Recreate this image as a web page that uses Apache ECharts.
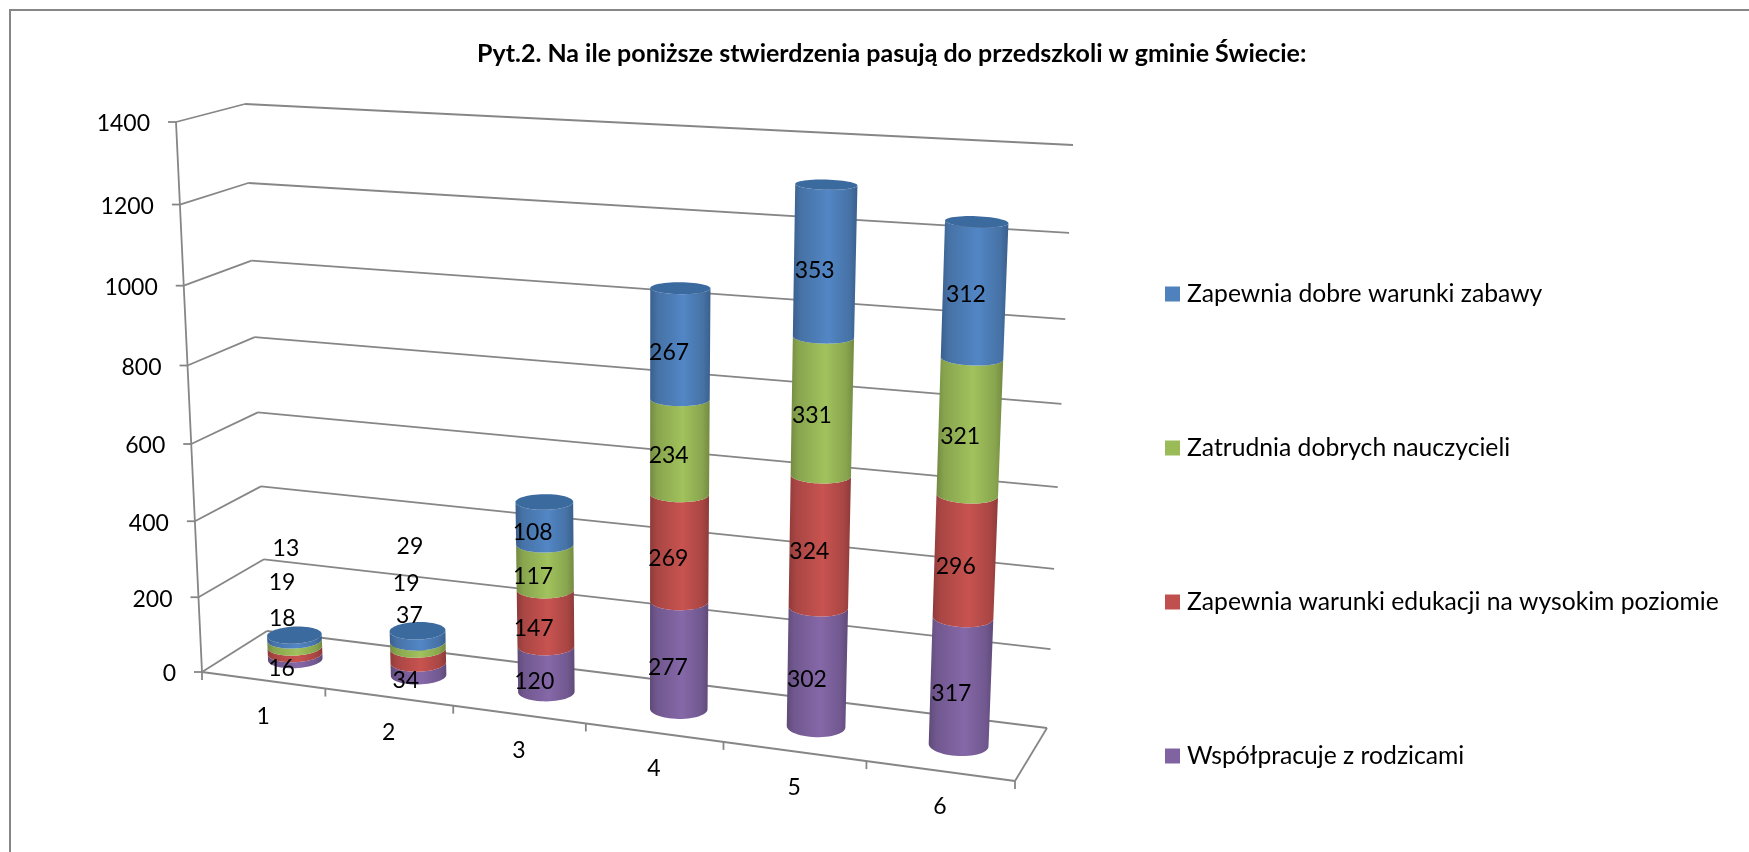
<!DOCTYPE html>
<html><head><meta charset="utf-8">
<style>html,body{margin:0;padding:0;background:#fff}#c{width:1749px;height:852px}</style>
<script src="https://cdn.jsdelivr.net/npm/echarts@6/dist/echarts.min.js"></script>
</head><body><div id="c"></div>
<script>
// ---- data ----
const titleText = 'Pyt.2. Na ile poniższe stwierdzenia pasują do przedszkoli w gminie Świecie:';
const categories = ['1','2','3','4','5','6'];
const yTicks = [0,200,400,600,800,1000,1200,1400];
const wspolpracuje = [16,34,120,277,302,317];
const edukacja = [18,37,147,269,324,296];
const nauczyciele = [19,19,117,234,331,321];
const zabawa = [13,29,108,267,353,312];
const stackOrder = [
  ['Współpracuje z rodzicami', wspolpracuje, '#8064a2', '#6b5488'],
  ['Zapewnia warunki edukacji na wysokim poziomie', edukacja, '#c0504d', '#a04340'],
  ['Zatrudnia dobrych nauczycieli', nauczyciele, '#9bbb59', '#81a04a'],
  ['Zapewnia dobre warunki zabawy', zabawa, '#4f81bd', '#3b6a9e']
];
const legendOrder = [stackOrder[3][0], stackOrder[2][0], stackOrder[1][0], stackOrder[0][0]];

// ---- perspective calibration of the axis box ----
const GRID = {left:100, top:100, width:600, height:600};
function quad(p0,p1,p2,p3){
  const dx1=p1[0]-p2[0],dx2=p3[0]-p2[0],sx=p0[0]-p1[0]+p2[0]-p3[0];
  const dy1=p1[1]-p2[1],dy2=p3[1]-p2[1],sy=p0[1]-p1[1]+p2[1]-p3[1];
  const den=dx1*dy2-dx2*dy1;
  const g=(sx*dy2-dx2*sy)/den,h=(dx1*sy-sx*dy1)/den;
  const a=p1[0]-p0[0]+g*p1[0],b=p3[0]-p0[0]+h*p3[0],c=p0[0];
  const d=p1[1]-p0[1]+g*p1[1],e=p3[1]-p0[1]+h*p3[1],f=p0[1];
  return (u,v)=>{const w=g*u+h*v+1;return [(a*u+b*v+c)/w,(d*u+e*v+f)/w];};
}
const frontPlane = quad([202,672],[1015,781],[1040,169],[176,122]);
const backPlane  = quad([267,631],[1047,728],[1073,145],[245,104]);
function P(u,v,z){const f=frontPlane(u,v),b=backPlane(u,v);return [f[0]+(b[0]-f[0])*z,f[1]+(b[1]-f[1])*z];}
function norm(c){return [(c[0]-GRID.left)/GRID.width,(GRID.top+GRID.height-c[1])/GRID.height];}

const RZ=0.21, USHIFT=0.001, AXIS='#868686', FONT='Lato, "Noto Sans", sans-serif', LABEL_SIZE=23;
const radiusX = u => 0.0378 - 0.0038*u;
const seriesLabelDy = [3,1,0,0];
function ln(a,b,w){return {type:'line',shape:{x1:a[0],y1:a[1],x2:b[0],y2:b[1]},style:{stroke:AXIS,lineWidth:w||1.8},silent:true};}

function renderY(params,api){
  const val=api.value(0), [ ,v]=norm(api.coord([0,val]));
  const a=P(0,v,0),b=P(0,v,1),c=P(1,v,1);
  const kids=[ln(a,b),ln(b,c),ln([a[0]-8,a[1]],a),
    {type:'text',style:{text:String(val),x:a[0]-26,y:a[1]+2,align:'right',verticalAlign:'middle',font:LABEL_SIZE+'px '+FONT,fill:'#000'}}];
  if(val===yTicks[yTicks.length-1]) kids.push(ln(P(0,0,0),a));
  return {type:'group',children:kids};
}
function renderX(params,api){
  const i=params.dataIndex, c=norm(api.coord([i,0])), band=api.size([1,0])[0]/GRID.width;
  const r=P(c[0]+band/2,0,0), mid=P(c[0],0,0);
  const kids=[ln([r[0],r[1]],[r[0],r[1]+8]),
    {type:'text',style:{text:categories[i],x:mid[0],y:mid[1]+36,align:'center',verticalAlign:'middle',font:LABEL_SIZE+'px '+FONT,fill:'#000'}}];
  if(i===0){kids.push(ln(P(0,0,0),[P(0,0,0)[0],P(0,0,0)[1]+8]),ln(P(0,0,0),P(1,0,0)),ln(P(1,0,0),P(1,0,1)));}
  return {type:'group',children:kids};
}
function ellipsePt(u,v,t){
  const rx=radiusX(u), C=P(u,v,.5),R=P(u+rx,v,.5),L=P(u-rx,v,.5),f=P(u,v,0),b=P(u,v,1);
  const ax=(R[0]-L[0])/2, ay=ax*(u-.5)*.1, bb=RZ*(f[1]-b[1]);
  return [C[0]+Math.cos(t)*ax, C[1]+Math.cos(t)*ay+Math.sin(t)*bb];
}
function shade(hex,k){
  const n=parseInt(hex.slice(1),16);
  const c=s=>Math.min(255,Math.round(((n>>s)&255)*k));
  return 'rgb('+c(16)+','+c(8)+','+c(0)+')';
}
// pixel nudges [x,y] per stack level where the picture's labels leave the regular position
const labelNudge = {
  0:[[0,0],[1,-42],[1,-70],[5,-98]],
  1:[[0,0],[4,-50],[1,-71],[5,-99]],
  5:[[0,0],[0,0],[0,0],[1,-5]]
};
function makeRender(sIdx){
  return function(params,api){
    const i=params.dataIndex, cat=api.value(0), lo=api.value(1), hi=api.value(2), val=api.value(3);
    const c0=norm(api.coord([cat,lo])), c1=norm(api.coord([cat,hi])), u=c0[0]+USHIFT;
    const pts=[];const N=28;
    for(let k=0;k<=N;k++){pts.push(ellipsePt(u,c0[1],Math.PI*k/N));}
    for(let k=N;k>=0;k--){pts.push(ellipsePt(u,c1[1],Math.PI*k/N));}
    const base=stackOrder[sIdx][2];
    const kids=[{type:'polygon',shape:{points:pts},style:{fill:new echarts.graphic.LinearGradient(0,0,1,0,[
      {offset:0,color:shade(base,.74)},{offset:.12,color:shade(base,.88)},{offset:.55,color:shade(base,1.04)},
      {offset:.88,color:shade(base,.88)},{offset:1,color:shade(base,.74)}])}}];
    if(sIdx===stackOrder.length-1){
      const top=[];for(let k=0;k<2*N;k++){top.push(ellipsePt(u,c1[1],Math.PI*k/N));}
      kids.push({type:'polygon',shape:{points:top},style:{fill:stackOrder[sIdx][3]}});
    }
    const m=norm(api.coord([cat,(lo+hi)/2])), at=P(u,m[1],.5);
    const nd=(labelNudge[i]&&labelNudge[i][sIdx])||[0,0];
    kids.push({type:'text',z2:100,style:{text:String(val),x:at[0]-14+5*u+nd[0],y:at[1]+9+seriesLabelDy[sIdx]+nd[1],align:'center',verticalAlign:'middle',font:LABEL_SIZE+'px '+FONT,fill:'#000'}});
    return {type:'group',children:kids};
  };
}
const seriesList=[
  {type:'custom',name:'_y',coordinateSystem:'cartesian2d',silent:true,renderItem:renderY,encode:{y:0},data:yTicks.map(v=>[v]),z:1,clip:false},
  {type:'custom',name:'_x',coordinateSystem:'cartesian2d',silent:true,renderItem:renderX,data:categories.map((c,i)=>[i]),z:1,clip:false}
];
const running=categories.map(()=>0);
stackOrder.forEach((s,si)=>{
  const rows=s[1].map((v,i)=>{const lo=running[i];running[i]+=v;return [i,lo,running[i],v];});
  seriesList.push({type:'custom',name:s[0],coordinateSystem:'cartesian2d',renderItem:makeRender(si),
    encode:{x:0,y:[1,2]},data:rows,itemStyle:{color:s[2]},z:2,clip:false});
});
const chart=echarts.init(document.getElementById('c'),null,{renderer:'canvas'});
chart.setOption({
  animation:false,
  backgroundColor:'#fff',
  title:{text:titleText,left:472,top:36,textStyle:{fontFamily:FONT,fontWeight:'bold',fontSize:25,color:'#000'}},
  grid:GRID,
  xAxis:{type:'category',data:categories,show:false},
  yAxis:{type:'value',min:0,max:1400,interval:200,show:false},
  legend:{orient:'vertical',left:1160,top:274,itemWidth:15,itemHeight:15,itemGap:124,icon:'rect',selectedMode:false,
    data:legendOrder,textStyle:{fontFamily:FONT,fontSize:24.7,lineHeight:30,color:'#000',padding:[0,0,0,2]}},
  graphic:[{type:'rect',shape:{x:10,y:10,width:1780,height:900},style:{fill:'none',stroke:'#868686',lineWidth:2},silent:true,z:0}],
  series:seriesList
});
</script></body></html>
